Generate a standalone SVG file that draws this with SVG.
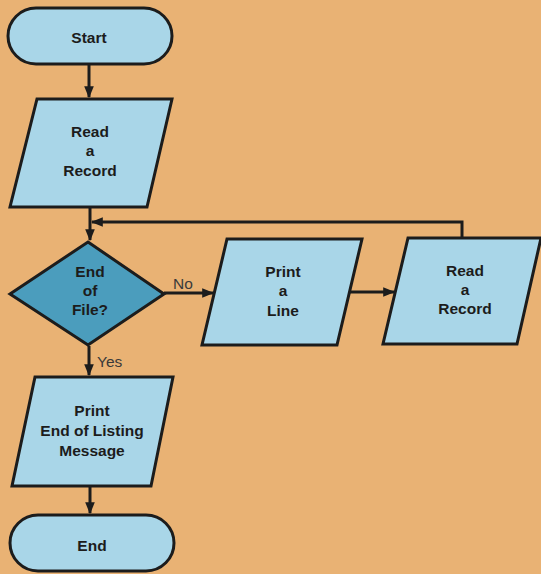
<svg xmlns="http://www.w3.org/2000/svg" width="541" height="574" viewBox="0 0 541 574">
<defs>
<style>
.shape{fill:#a9d6e8;stroke:#1c1c1c;stroke-width:3;stroke-linejoin:miter}
.dec{fill:#4b9dbd;stroke:#1c1c1c;stroke-width:3}
.line{fill:none;stroke:#1c1c1c;stroke-width:3}
text{font-family:"Liberation Sans",Arial,sans-serif;font-size:15.5px;font-weight:bold;fill:#1c1c1c;text-anchor:middle;dominant-baseline:central}
.lbl{font-weight:normal;fill:#3a3a3a;text-anchor:start}
</style>
<marker id="arr" viewBox="0 0 10 10" refX="9" refY="5" markerWidth="4" markerHeight="4" orient="auto">
<path d="M0,1 L10,5 L0,9 Z" fill="#1c1c1c"/>
</marker>
</defs>
<rect width="541" height="574" fill="#e9b274"/>
<g id="connectors">
<line class="line" x1="89" y1="65" x2="89" y2="97" marker-end="url(#arr)"/>
<line class="line" x1="90" y1="207" x2="90" y2="240" marker-end="url(#arr)"/>
<polyline class="line" points="462,238 462,222 92,222" marker-end="url(#arr)"/>
<line class="line" x1="164" y1="293" x2="213" y2="293" marker-end="url(#arr)"/>
<line class="line" x1="349" y1="292" x2="394" y2="292" marker-end="url(#arr)"/>
<line class="line" x1="89" y1="346" x2="89" y2="375" marker-end="url(#arr)"/>
<line class="line" x1="90" y1="486" x2="90" y2="513" marker-end="url(#arr)"/>
<text class="lbl" x="173" y="283">No</text>
<text class="lbl" x="97" y="361">Yes</text>
</g>
<g id="start">
<rect class="shape" x="8" y="8" width="164" height="56" rx="28"/>
<text x="89" y="37">Start</text>
</g>
<g id="read1">
<polygon class="shape" points="37,99 172,99 147,207 10,207"/>
<text x="90" y="131">Read</text>
<text x="90" y="150">a</text>
<text x="90" y="170">Record</text>
</g>
<g id="eof">
<polygon class="dec" points="88,242 164,294 88,345 10,294"/>
<text x="90" y="271">End</text>
<text x="90" y="290">of</text>
<text x="90" y="309">File?</text>
</g>
<g id="printline">
<polygon class="shape" points="227,239 362,239 337,345 202,345"/>
<text x="283" y="271">Print</text>
<text x="283" y="290">a</text>
<text x="283" y="310">Line</text>
</g>
<g id="read2">
<polygon class="shape" points="408,238 541,238 517,344 383,344"/>
<text x="465" y="270">Read</text>
<text x="465" y="289">a</text>
<text x="465" y="308">Record</text>
</g>
<g id="printend">
<polygon class="shape" points="35,377 173,377 151,486 12,486"/>
<text x="92" y="410">Print</text>
<text x="92" y="430">End of Listing</text>
<text x="92" y="450">Message</text>
</g>
<g id="end">
<rect class="shape" x="10" y="515" width="164" height="56" rx="28"/>
<text x="92" y="545">End</text>
</g>
</svg>
